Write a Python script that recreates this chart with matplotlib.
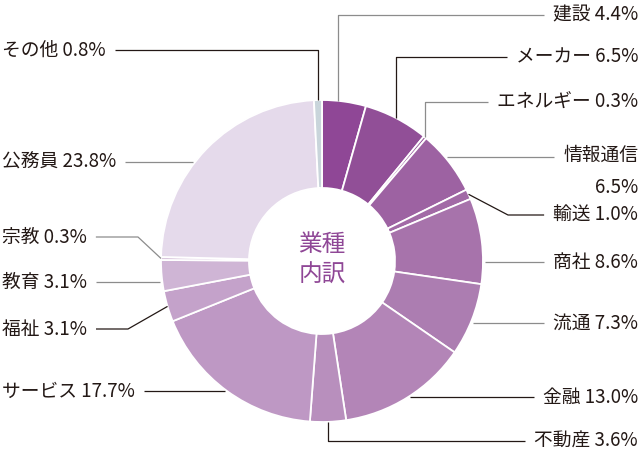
import numpy as np
import matplotlib
matplotlib.use("Agg")
import matplotlib.pyplot as plt

plt.rcParams['font.family'] = ['Noto Sans CJK JP', 'DejaVu Sans']

# data (clockwise from 12 o'clock)
names = ["建設", "メーカー", "エネルギー", "情報通信", "輸送", "商社", "流通", "金融",
         "不動産", "サービス", "福祉", "教育", "宗教", "公務員", "その他"]
shares = [4.4, 6.5, 0.3, 6.5, 1.0, 8.6, 7.3, 13.0, 3.6, 17.7, 3.1, 3.1, 0.3, 23.8, 0.8]
colors = ["#8f4796", "#914f97", "#97599d", "#9d62a2", "#a26aa6", "#a773ab", "#ac7db1",
          "#b385b7", "#b88fbd", "#be98c4", "#c4a2ca", "#cfb5d5", "#d9c7dd", "#e5daeb",
          "#c9d5db"]

# label layout: (side, y, kind, elbow x, anchor fraction in wedge, line colour)
GRAY = "#8c8c8c"
INK = "#231815"
layout = [
    ("R", 15, "elbow", None, 0.35, GRAY),
    ("R", 57, "elbow", None, 0.5, INK),
    ("R", 102, "elbow", None, 0.5, GRAY),
    ("R", 157, "h", None, 0.5, GRAY),
    ("R", 215, "diag", 508, 0.5, INK),
    ("R", 262, "h", None, 0.5, GRAY),
    ("R", 323, "h", None, 0.5, GRAY),
    ("R", 397, "h", None, 0.5, INK),
    ("R", 441, "elbow", None, 0.5, INK),
    ("L", 391, "h", None, 0.5, INK),
    ("L", 329, "diag", 128, 0.5, INK),
    ("L", 282, "h", None, 0.5, GRAY),
    ("L", 237, "diag", 138, 0.5, GRAY),
    ("L", 162, "h", None, 0.5, GRAY),
    ("L", 50, "elbow", None, 0.5, INK),
]

W, H = 640, 455
cx, cy, R, r_in = 322, 261, 161, 73

fig = plt.figure(figsize=(6.4, 4.55), dpi=100)
ax = fig.add_axes([0, 0, 1, 1])
ax.pie(shares, colors=colors, radius=R, center=(cx, cy), startangle=-90,
       counterclock=True,
       wedgeprops=dict(width=R - r_in, edgecolor="white", linewidth=1.3))
ax.set_xlim(0, W)
ax.set_ylim(H, 0)
ax.set_aspect("equal")
ax.axis("off")

ax.text(cx, cy - 1, "業種\n内訳", ha="center", va="center", fontsize=17,
        color="#8f4796", linespacing=1.4)

total = sum(shares)
cum = np.concatenate([[0], np.cumsum(shares)])


def anchor(i, frac):
    c = (cum[i] + frac * shares[i]) / total
    th = np.deg2rad(-90 + 360 * c)
    return cx + R * np.cos(th), cy + R * np.sin(th)


fig.canvas.draw()
rend = fig.canvas.get_renderer()
inv = ax.transData.inverted()
gap = 9
fs = 13.5

for i, (name, val) in enumerate(zip(names, shares)):
    side, ly, kind, ex, frac, lc = layout[i]
    if name == "情報通信":
        label = f"{name}\n{val:.1f}%"
    else:
        label = f"{name} {val:.1f}%"
    if side == "R":
        t = ax.text(638, ly, label, ha="right", va="center", fontsize=fs,
                    color=INK, multialignment="right", linespacing=1.7)
    else:
        t = ax.text(2, ly, label, ha="left", va="center", fontsize=fs,
                    color=INK)
    if "\n" in label:
        t.set_va("top")
        t.set_y(ly - 12)
    bb = t.get_window_extent(rend)
    x0, _ = inv.transform((bb.x0, 0))
    x1, _ = inv.transform((bb.x1, 0))
    tx = x0 - gap if side == "R" else x1 + gap
    sgn = 1 if side == "R" else -1

    if kind == "elbow":
        ax_, ay_ = anchor(i, frac)
        xs, ys = [tx, ax_, ax_], [ly, ly, ay_]
    elif kind == "h":
        rx = cx + sgn * np.sqrt(R ** 2 - (ly - cy) ** 2) + sgn * 2
        xs, ys = [tx, rx], [ly, ly]
    else:
        ax_, ay_ = anchor(i, frac)
        xs, ys = [tx, ex, ax_], [ly, ly, ay_]
    ax.plot(xs, ys, color=lc, lw=0.9, solid_capstyle="butt")

fig.savefig("out.png", dpi=100)
